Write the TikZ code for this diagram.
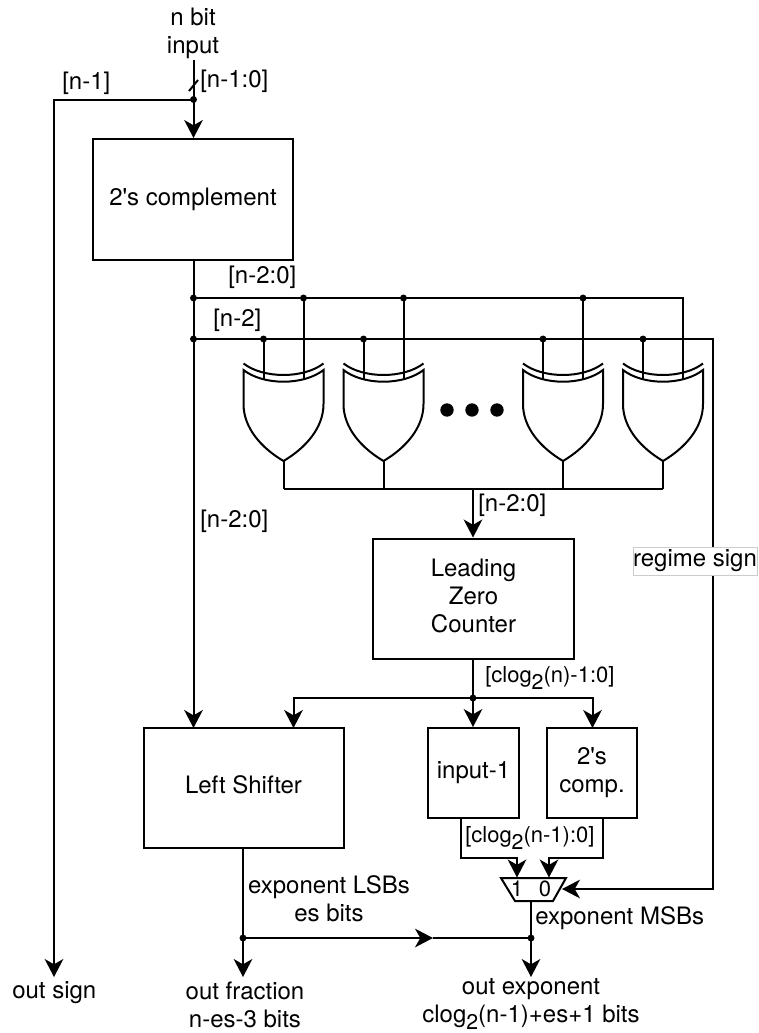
\documentclass[tikz,border=0pt]{standalone}
\usepackage{fontspec}
\setmainfont{TeX Gyre Heros}
\usetikzlibrary{arrows.meta}
\newcommand{\subtwo}{\raisebox{-0.3em}{\fontsize{16}{16}\selectfont 2}}
\tikzset{
  wire/.style={line width=1.5pt,line join=miter},
  arrowed/.style={wire,-{Stealth[length=13.5pt,width=14pt,inset=4pt]}},
  blockbox/.style={draw,line width=1.5pt,align=center,font=\fontsize{18}{21}\selectfont,inner sep=0pt},
  lbl/.style={font=\fontsize{18}{21}\selectfont,inner sep=0pt,align=center},
  lblsm/.style={font=\fontsize{16.5}{20}\selectfont,inner sep=0pt,align=center},
  jdot/.style={fill=black,circle,inner sep=0pt,minimum size=5.2pt},
  bigdot/.style={fill=black,circle,inner sep=0pt,minimum size=10pt},
  xorgate/.pic={
    \draw[wire,fill=white] (-40,0) .. controls (-20,15.6) and (20,15.6) .. (40,0)
      -- (40,34) .. controls (40,58) and (22,78) .. (0,91)
      .. controls (-22,78) and (-40,58) .. (-40,34) -- cycle;
    \draw[wire] (-40,-6.5) .. controls (-20,8.8) and (20,8.8) .. (40,-6.5);
  }
}
\begin{document}
\begin{tikzpicture}[x=0.75pt,y=-0.75pt]
\useasboundingbox (0,0) rectangle (758,1033);
% blocks
\node[blockbox,minimum width=150pt,minimum height=90.75pt] (comp) at (193,199.5) {2\textquotesingle s complement};
\node[blockbox,minimum width=150.75pt,minimum height=90pt,label={[lbl,yshift=2.25pt]center:Leading\\Zero\\Counter}] (lzc) at (473.5,598.5) {};
\node[blockbox,minimum width=150pt,minimum height=90pt,label={[lbl,yshift=2.25pt]center:Left Shifter}] (ls) at (243.5,788) {};
\node[blockbox,minimum width=68.25pt,minimum height=67.5pt] (inm) at (473.5,773) {input-1};
\node[blockbox,minimum width=67.5pt,minimum height=67.5pt] (tc) at (592,773) {2\textquotesingle s\\comp.};
% free coordinates
\coordinate (top) at (193.5,60);
\coordinate (j0) at (193.5,99.5);
\coordinate (s1) at (189,91);
\coordinate (s2) at (198,80);
\coordinate (c1) at (54,99.5);
\coordinate (c2) at (54,977);
\coordinate (j1) at (193.5,298);
\coordinate (j2) at (193.5,339);
\coordinate (lsin) at (193.5,728);
% gate inputs
\foreach \n/\cx in {a/283.5,b/383.5,c/563,d/663}{
  \coordinate (g\n) at (\cx,374);
  \coordinate (g\n o) at (\cx,461);
  \coordinate (g\n b) at (\cx,489);
  \coordinate (g\n l) at ([xshift=-15pt]g\n);
  \coordinate (g\n r) at ([xshift=15pt]g\n);
}
% input connections drawn beneath gates
\draw[wire] (gal|-j2) -- (gal|-0,380);
\draw[wire] (gar|-j1) -- (gar|-0,380);
\draw[wire] (gbl|-j2) -- (gbl|-0,380);
\draw[wire] (gbr|-j1) -- (gbr|-0,380);
\draw[wire] (gcl|-j2) -- (gcl|-0,380);
\draw[wire] (gcr|-j1) -- (gcr|-0,380);
\draw[wire] (gdl|-j2) -- (gdl|-0,380);
\draw[wire] (j1) -| (gdr|-0,380);
% gates
\foreach \n in {a,b,c,d}{
  \pic at (g\n |- 0,370) {xorgate};
  \draw[wire] (g\n o) -- (g\n b);
}
% wires
\draw[arrowed] (top) -- (comp.north -| top);
\draw[wire] (s1) -- (s2);
\draw[arrowed] (j0) -| (c1) -- (c2);
\draw[arrowed] (comp.south -| top) -- (lsin);
\coordinate (r1) at (713,339);
\coordinate (r2) at (713,889);
\coordinate (mtip) at (562,889);
\draw[arrowed] (j2) -- (r1) -- (r2) -- (mtip);
\draw[wire] (gab) -- (gdb);
\coordinate (m0) at (473,489);
\draw[arrowed] (m0) -- (lzc.north -| m0);
\coordinate (j3) at (473,698);
\draw[wire] (lzc.south -| j3) -- (j3);
\draw[arrowed] (j3) -- (inm.north -| j3);
\coordinate (sl) at (293.5,728);
\coordinate (sr) at (592.5,728);
\draw[arrowed] (j3) -| (sl);
\draw[arrowed] (j3) -| (sr);
% mux
\coordinate (m1) at (501,878);
\coordinate (m2) at (566,878);
\coordinate (m3) at (553,901);
\coordinate (m4) at (515,901);
\draw[wire,fill=white] (m1) -- (m2) -- (m3) -- (m4) -- cycle;
\node[lblsm] (one) at (517,889) {1};
\node[lblsm] (zero) at (545,889) {0};
\coordinate (a1) at (461,818);
\coordinate (a2) at (461,858);
\coordinate (a3) at (517,858);
\coordinate (a4) at (517,877.5);
\draw[arrowed] (a1) -- (a2) -- (a3) -- (a4);
\coordinate (b1) at (603,818);
\coordinate (b2) at (603,858);
\coordinate (b3) at (549,858);
\coordinate (b4) at (549,877.5);
\draw[arrowed] (b1) -- (b2) -- (b3) -- (b4);
% outputs
\coordinate (j4) at (243,938);
\coordinate (j5) at (531,938);
\coordinate (f) at (243,977);
\coordinate (e) at (531,977);
\coordinate (mout) at (531,901);
\coordinate (mid) at (433,938);
\draw[arrowed] (ls.south -| j4) -- (f);
\draw[arrowed] (mout) -- (e);
\draw[arrowed] (j4) -- (mid);
\draw[wire] (mid) -- (j5);
% dots
\foreach \p in {j0,j1,j2,j3,j4,j5}{\node[jdot] at (\p) {};}
\foreach \n in {a,b,c}{\node[jdot] at (g\n r|-j1) {};}
\foreach \n in {a,b,c,d}{\node[jdot] at (g\n l|-j2) {};}
\node[bigdot] (d1) at (447,410) {};
\node[bigdot] (d2) at (472,410) {};
\node[bigdot] (d3) at (497,410) {};
% labels
\node[lbl] (tinput) at (193,33) {n bit\\input};
\node[lbl,anchor=west] (l1) at (62,83) {[n-1]};
\node[lbl,anchor=west] (l2) at (200,81) {[n-1:0]};
\node[lbl,anchor=west] (l3) at (228,277) {[n-2:0]};
\node[lbl,anchor=west] (l4) at (213,320) {[n-2]};
\node[lbl,anchor=west] (l5) at (200,521) {[n-2:0]};
\node[lbl,anchor=west] (l6) at (478,505) {[n-2:0]};
\node[lblsm,anchor=west] (l7) at (485,678) {[clog\subtwo(n)-1:0]};
\node[lblsm,anchor=west] (l8) at (465,838) {[clog\subtwo(n-1):0]};
\node[lbl] (l9) at (329,899) {exponent LSBs\\es bits};
\node[lbl,anchor=west] (l10) at (535,918) {exponent MSBs};
\node[lbl,draw=black!20,line width=0.6pt,fill=white,minimum width=93pt,minimum height=21pt] (reg) at (695,561) {regime sign};
\node[lbl,anchor=west] (osign) at (12,993) {out sign};
\node[lbl] (ofrac) at (245,1005) {out fraction\\n-es-3 bits};
\node[lbl] (oexp) at (531,1004) {out exponent\\clog\subtwo(n-1)+es+1 bits};
\end{tikzpicture}
\end{document}
